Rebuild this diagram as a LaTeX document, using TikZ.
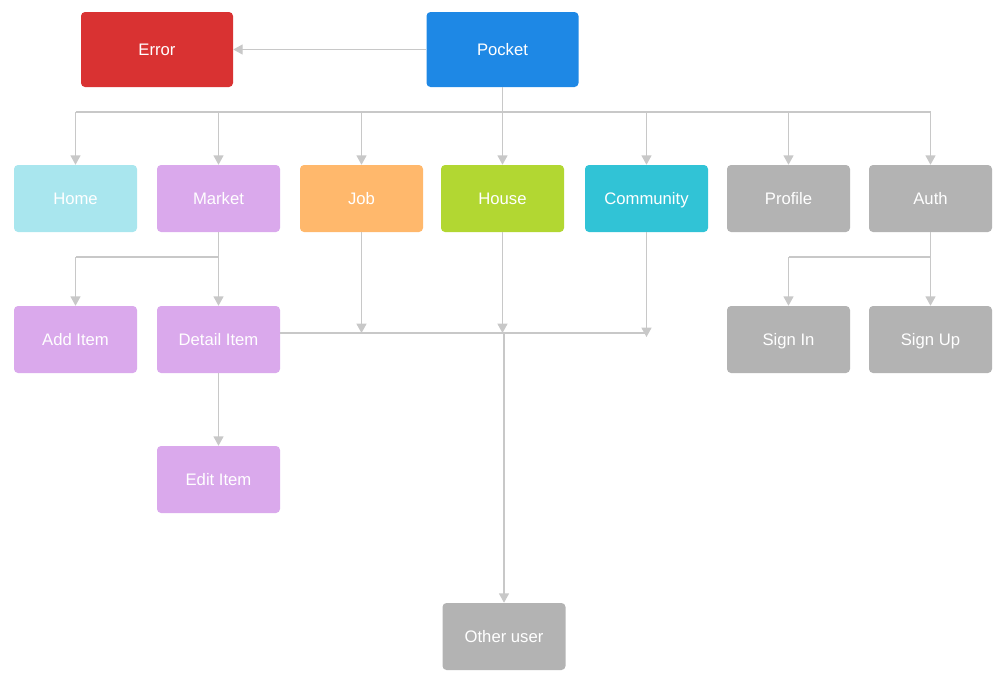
\documentclass[tikz,border=0pt]{standalone}
\usepackage{fontspec}
\setmainfont{Liberation Sans}
\usetikzlibrary{arrows.meta}
\definecolor{errred}{HTML}{D93232}
\definecolor{pocketblue}{HTML}{1E88E5}
\definecolor{homecyan}{HTML}{A9E6EE}
\definecolor{marketlilac}{HTML}{DAA9EC}
\definecolor{joborange}{HTML}{FFB86C}
\definecolor{housegreen}{HTML}{B2D732}
\definecolor{commteal}{HTML}{31C3D6}
\definecolor{plaingray}{HTML}{B3B3B3}
\definecolor{wire}{HTML}{C8C8C8}
\tikzset{
  box/.style={rounded corners=3pt, minimum width=92.25pt, minimum height=50.25pt,
    inner sep=0pt, text=white, font=\fontsize{12.5}{15}\selectfont, draw=none,
    text height=11pt, text depth=1.6pt},
  bigbox/.style={box, minimum width=114pt, minimum height=56.25pt},
  link/.style={draw=wire, line width=0.9pt, -{Triangle[length=7pt,width=7.5pt]}},
  wireline/.style={draw=wire, line width=0.9pt}
}
\begin{document}
\begin{tikzpicture}[x=0.75pt,y=-0.75pt]
\useasboundingbox (0,0) rectangle (1000,690);
% top row
\node[bigbox, fill=errred] (error) at (157,49.5) {Error};
\node[bigbox, fill=pocketblue] (pocket) at (502.5,49.5) {Pocket};
% second row
\node[box, fill=homecyan] (home) at (75.5,198.5) {Home};
\node[box, fill=marketlilac] (market) at (218.5,198.5) {Market};
\node[box, fill=joborange] (job) at (361.5,198.5) {Job};
\node[box, fill=housegreen] (house) at (502.5,198.5) {House};
\node[box, fill=commteal] (community) at (646.5,198.5) {Community};
\node[box, fill=plaingray] (profile) at (788.5,198.5) {Profile};
\node[box, fill=plaingray] (auth) at (930.5,198.5) {Auth};
% third row
\node[box, fill=marketlilac] (additem) at (75.5,339.5) {Add Item};
\node[box, fill=marketlilac] (detailitem) at (218.5,339.5) {Detail Item};
\node[box, fill=plaingray] (signin) at (788.5,339.5) {Sign In};
\node[box, fill=plaingray] (signup) at (930.5,339.5) {Sign Up};
% lower nodes
\node[box, fill=marketlilac] (edititem) at (218.5,479.5) {Edit Item};
\node[box, fill=plaingray] (otheruser) at (504,636.5) {Other user};

% Pocket links
\draw[link] (pocket.west) -- (error.east);
\coordinate (pbus) at (502.5,112);
\draw[wireline] (pocket.south) -- (pbus);
\draw[wireline] (home.north |- pbus) -- (auth.north |- pbus);
\foreach \n in {home,market,job,house,community,profile,auth}
  \draw[link] (\n.north |- pbus) -- (\n.north);

% Market links
\coordinate (mbus) at (218.5,257);
\draw[wireline] (market.south) -- (mbus) -- (additem.north |- mbus);
\draw[link] (additem.north |- mbus) -- (additem.north);
\draw[link] (market.south) -- (detailitem.north);
\draw[link] (detailitem.south) -- (edititem.north);

% shared bus from Job, House, Community
\coordinate (dbus) at (280,333);
\coordinate (cend) at (646.5,333);
\draw[wireline] (dbus) -- (cend);
\draw[link] (job.south) -- (job.south |- dbus);
\draw[link] (house.south) -- (house.south |- dbus);
\draw[link] (community.south) -- ([yshift=-3]community.south |- dbus);
\draw[link] (otheruser.north |- dbus) -- (otheruser.north);

% Auth links
\coordinate (abus) at (930.5,257);
\draw[wireline] (auth.south) -- (abus) -- (signin.north |- abus);
\draw[link] (signin.north |- abus) -- (signin.north);
\draw[link] (auth.south) -- (signup.north);
\end{tikzpicture}
\end{document}
